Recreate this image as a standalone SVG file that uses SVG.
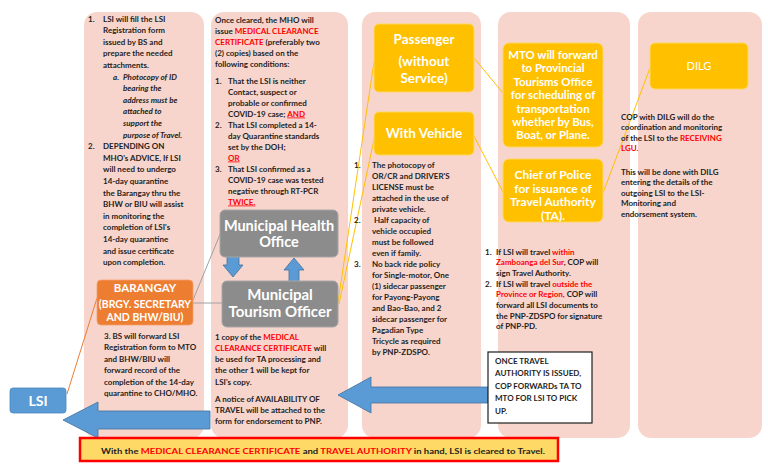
<svg xmlns="http://www.w3.org/2000/svg" width="768" height="466" viewBox="0 0 768 466">
<style>
.col{fill:#F7D5CC}
.t{font-family:Lato,"Liberation Sans",sans-serif;font-weight:bold;font-size:8px;fill:#1e1e1e}
.r{fill:#FF0000}
.it{font-style:italic}
.u{text-decoration:underline}
.yb{fill:#FFC000;stroke:#FFD75E;stroke-width:1}
.gb{fill:#8C8C8C;stroke:#A6A6A6;stroke-width:1}
.bw{font-family:Lato,"Liberation Sans",sans-serif;font-weight:bold;fill:#FFFFFF;text-anchor:middle}
.ar{fill:#5B9BD5;stroke:#41719C;stroke-width:0.8}
.cy{stroke:#FFC000;stroke-width:1;fill:none}
.cg{stroke:#A0A0A0;stroke-width:1;fill:none}
.co{stroke:#ED7D31;stroke-width:1;fill:none}
</style>

<g id="columns">
<rect class="col" x="84" y="12" width="120" height="426" rx="13"/>
<rect class="col" x="211" y="12" width="137" height="426" rx="13"/>
<rect class="col" x="362" y="12" width="119" height="426" rx="13"/>
<rect class="col" x="498" y="12" width="132" height="426" rx="13"/>
<rect class="col" x="638" y="12" width="124" height="426" rx="13"/>
</g>

<g id="connectors">
<line class="co" x1="97" y1="298" x2="67" y2="394"/>
<line class="cg" x1="193" y1="303" x2="222" y2="303"/>
<line class="cg" x1="193" y1="300" x2="221" y2="232"/>
<line class="cy" x1="338" y1="302" x2="374" y2="62"/>
<line class="cy" x1="339" y1="304" x2="375" y2="135"/>
<line class="cy" x1="474" y1="58" x2="503" y2="93"/>
<line class="cy" x1="474" y1="136" x2="503" y2="192"/>
<line class="cy" x1="603" y1="193" x2="650" y2="68"/>
<polygon class="ar" points="63,420 98,402 98,411 210,411 210,429 98,429 98,438"/>
<polygon class="ar" points="338,395 371,377 371,387 488,387 488,403 371,403 371,413"/>
<polygon class="ar" points="227,254 239,254 239,265 243,265 233,277 223,265 227,265"/>
<polygon class="ar" points="294,258 304,270 299,270 299,283 289,283 289,270 284,270"/>
</g>

<g id="lsi">
<rect x="10" y="388" width="56" height="25" rx="3" fill="#5B9BD5" stroke="#4A88C0" stroke-width="0.8"/>
<text class="bw" x="38" y="406" font-size="14">LSI</text>
</g>

<g id="lsi-steps">
<text class="t">
<tspan x="88" y="21.5">1.</tspan>
<tspan x="103" y="21.5">LSI will fill the LSI</tspan>
<tspan x="103" y="33.1">Registration form</tspan>
<tspan x="103" y="44.7">issued by BS and</tspan>
<tspan x="103" y="56.3">prepare the needed</tspan>
<tspan x="103" y="67.9">attachments.</tspan>
</text>
<text class="t it">
<tspan x="113" y="79.5">a.</tspan>
<tspan x="123" y="79.5">Photocopy of ID</tspan>
<tspan x="123" y="91.1">bearing the</tspan>
<tspan x="123" y="102.7">address must be</tspan>
<tspan x="123" y="114.3">attached to</tspan>
<tspan x="123" y="125.9">support the</tspan>
<tspan x="123" y="137.5">purpose of Travel.</tspan>
</text>
<text class="t">
<tspan x="88" y="149.1">2.</tspan>
<tspan x="103" y="149.1">DEPENDING ON</tspan>
<tspan x="103" y="160.7">MHO's ADVICE, If LSI</tspan>
<tspan x="103" y="172.3">will need to undergo</tspan>
<tspan x="103" y="183.9">14-day quarantine</tspan>
<tspan x="103" y="195.5">the Barangay thru the</tspan>
<tspan x="103" y="207.1">BHW or BIU will assist</tspan>
<tspan x="103" y="218.7">in monitoring the</tspan>
<tspan x="103" y="230.3">completion of LSI's</tspan>
<tspan x="103" y="241.9">14-day quarantine</tspan>
<tspan x="103" y="253.5">and issue certificate</tspan>
<tspan x="103" y="265.1">upon completion.</tspan>
</text>
<text class="t">
<tspan x="104" y="338.5">3. BS will forward LSI</tspan>
<tspan x="104" y="350">Registration form to MTO</tspan>
<tspan x="104" y="361.5">and BHW/BIU will</tspan>
<tspan x="104" y="373">forward record of the</tspan>
<tspan x="104" y="384.5">completion of the 14-day</tspan>
<tspan x="104" y="396">quarantine to CHO/MHO.</tspan>
</text>
</g>

<g id="barangay">
<rect x="97" y="280" width="96" height="45" rx="4" fill="#ED7D31" stroke="#F4A070" stroke-width="0.8"/>
<text class="bw" font-size="10.5"><tspan x="145" y="292" font-size="11.5">BARANGAY</tspan><tspan x="145" y="308">(BRGY. SECRETARY</tspan><tspan x="145" y="321">AND BHW/BIU)</tspan></text>
</g>

<g id="mho-text">
<text class="t">
<tspan x="215" y="22.5">Once cleared, the MHO will</tspan>
<tspan x="215" y="33.5">issue <tspan class="r">MEDICAL CLEARANCE</tspan></tspan>
<tspan x="215" y="44.5"><tspan class="r">CERTIFICATE</tspan> (preferably two</tspan>
<tspan x="215" y="55.5">(2) copies) based on the</tspan>
<tspan x="215" y="66.5">following conditions:</tspan>
<tspan x="215" y="83.5">1.</tspan>
<tspan x="228" y="83.5">That the LSI is neither</tspan>
<tspan x="228" y="94.5">Contact, suspect or</tspan>
<tspan x="228" y="105.5">probable or confirmed</tspan>
<tspan x="228" y="116.5">COVID-19 case; <tspan class="r u">AND</tspan></tspan>
<tspan x="215" y="127.5">2.</tspan>
<tspan x="228" y="127.5">That LSI completed a 14-</tspan>
<tspan x="228" y="138.5">day Quarantine standards</tspan>
<tspan x="228" y="149.5">set by the DOH;</tspan>
<tspan x="228" y="160.5" class="r u">OR</tspan>
<tspan x="215" y="171.5">3.</tspan>
<tspan x="228" y="171.5">That LSI confirmed as a</tspan>
<tspan x="228" y="182.5">COVID-19 case was tested</tspan>
<tspan x="228" y="193.5">negative through RT-PCR</tspan>
<tspan x="228" y="204.5" class="r u">TWICE.</tspan>
</text>
<text class="t">
<tspan x="215" y="339.5">1 copy of the <tspan class="r">MEDICAL</tspan></tspan>
<tspan x="215" y="350.8"><tspan class="r">CLEARANCE CERTIFICATE</tspan> will</tspan>
<tspan x="215" y="362.1">be used for TA processing and</tspan>
<tspan x="215" y="373.4">the other 1 will be kept for</tspan>
<tspan x="215" y="384.7">LSI's copy.</tspan>
<tspan x="215" y="401.5">A notice of AVAILABILITY OF</tspan>
<tspan x="215" y="412.8">TRAVEL will be attached to the</tspan>
<tspan x="215" y="424.1">form for endorsement to PNP.</tspan>
</text>
</g>

<g id="mho">
<rect class="gb" x="220" y="210" width="118" height="47" rx="5"/>
<text class="bw" font-size="14.5"><tspan x="279" y="231">Municipal Health</tspan><tspan x="279" y="247">Office</tspan></text>
</g>

<g id="mto-officer">
<rect class="gb" x="222" y="281" width="116" height="46" rx="5"/>
<text class="bw" font-size="15"><tspan x="280" y="300">Municipal</tspan><tspan x="280" y="317">Tourism Officer</tspan></text>
</g>

<g id="passenger">
<rect class="yb" x="374" y="24" width="100" height="68" rx="5"/>
<text class="bw" font-size="13.5"><tspan x="424" y="44">Passenger</tspan><tspan x="424" y="66">(without</tspan><tspan x="424" y="83">Service)</tspan></text>
</g>

<g id="vehicle">
<rect class="yb" x="374" y="112" width="100" height="43" rx="5"/>
<text class="bw" font-size="13.5" x="424" y="138">With Vehicle</text>
</g>

<g id="vehicle-text">
<text class="t">
<tspan x="354" y="167.5">1.</tspan>
<tspan x="372" y="167.5">The photocopy of</tspan>
<tspan x="372" y="178.5">OR/CR and DRIVER'S</tspan>
<tspan x="372" y="189.5">LICENSE must be</tspan>
<tspan x="372" y="200.5">attached in the use of</tspan>
<tspan x="372" y="211.5">private vehicle.</tspan>
<tspan x="354" y="222.5">2.</tspan>
<tspan x="374" y="222.5">Half capacity of</tspan>
<tspan x="372" y="233.5">vehicle occupied</tspan>
<tspan x="372" y="244.5">must be followed</tspan>
<tspan x="372" y="255.5">even if family.</tspan>
<tspan x="354" y="266.5">3.</tspan>
<tspan x="372" y="266.5">No back ride policy</tspan>
<tspan x="372" y="277.5">for Single-motor, One</tspan>
<tspan x="372" y="288.5">(1) sidecar passenger</tspan>
<tspan x="372" y="299.5">for Payong-Payong</tspan>
<tspan x="372" y="310.5">and Bao-Bao, and 2</tspan>
<tspan x="372" y="321.5">sidecar passenger for</tspan>
<tspan x="372" y="332.5">Pagadian Type</tspan>
<tspan x="372" y="343.5">Tricycle as required</tspan>
<tspan x="372" y="354.5">by PNP-ZDSPO.</tspan>
</text>
</g>

<g id="mto-forward">
<rect class="yb" x="503" y="43" width="100" height="104" rx="6"/>
<text class="bw" font-size="11.4"><tspan x="553" y="59">MTO will forward</tspan><tspan x="553" y="72.4">to Provincial</tspan><tspan x="553" y="85.8">Tourisms Office</tspan><tspan x="553" y="99.2">for  scheduling of</tspan><tspan x="553" y="112.6">transportation</tspan><tspan x="553" y="126">whether by Bus,</tspan><tspan x="553" y="139.4">Boat, or Plane.</tspan></text>
</g>

<g id="cop">
<rect class="yb" x="503" y="159" width="100" height="63" rx="6"/>
<text class="bw" font-size="12"><tspan x="553" y="179">Chief of Police</tspan><tspan x="553" y="192.5">for issuance of</tspan><tspan x="553" y="206">Travel Authority</tspan><tspan x="553" y="219.5">(TA).</tspan></text>
</g>

<g id="cop-text">
<text class="t">
<tspan x="485" y="254.5">1.</tspan>
<tspan x="496" y="254.5">If LSI will travel <tspan class="r">within</tspan></tspan>
<tspan x="496" y="265.2"><tspan class="r">Zamboanga del Sur</tspan>, COP will</tspan>
<tspan x="496" y="275.9">sign Travel Authority.</tspan>
<tspan x="485" y="286.6">2.</tspan>
<tspan x="496" y="286.6">If LSI will travel <tspan class="r">outside the</tspan></tspan>
<tspan x="496" y="297.3"><tspan class="r">Province or Region,</tspan> COP will</tspan>
<tspan x="496" y="308">forward all LSI documents to</tspan>
<tspan x="496" y="318.7">the PNP-ZDSPO for signature</tspan>
<tspan x="496" y="329.4">of PNP-PD.</tspan>
</text>
</g>

<g id="ta-note">
<rect x="488" y="352" width="104" height="71" fill="#FFFFFF" stroke="#1e1e1e" stroke-width="1.2"/>
<text class="t" font-size="9"><tspan x="495" y="363.5">ONCE TRAVEL</tspan><tspan x="495" y="376">AUTHORITY IS ISSUED,</tspan><tspan x="495" y="388.5">COP FORWARDs TA TO</tspan><tspan x="495" y="401">MTO FOR LSI TO PICK</tspan><tspan x="495" y="413.5">UP.</tspan></text>
</g>

<g id="dilg">
<rect class="yb" x="650" y="43" width="98" height="46" rx="5"/>
<text x="699" y="70" font-family="Lato,'Liberation Sans',sans-serif" font-size="11" fill="#FFFFFF" text-anchor="middle">DILG</text>
</g>

<g id="dilg-text">
<text class="t">
<tspan x="621" y="119.5">COP with DILG will do the</tspan>
<tspan x="621" y="130.1">coordination and monitoring</tspan>
<tspan x="621" y="140.7">of the LSI to the <tspan class="r">RECEIVING</tspan></tspan>
<tspan x="621" y="151.3" class="r">LGU.</tspan>
<tspan x="621" y="174.5">This will be done with DILG</tspan>
<tspan x="621" y="185.1">entering the details of the</tspan>
<tspan x="621" y="195.7">outgoing LSI to the LSI-</tspan>
<tspan x="621" y="206.3">Monitoring and</tspan>
<tspan x="621" y="216.9">endorsement system.</tspan>
</text>
</g>

<g id="banner">
<rect x="80" y="438" width="478" height="23" fill="#FFD966" stroke="#FF0000" stroke-width="2.5"/>
<text class="t" font-size="10" x="101" y="453.5" textLength="444" lengthAdjust="spacingAndGlyphs">With the <tspan class="r">MEDICAL CLEARANCE CERTIFICATE</tspan> and <tspan class="r">TRAVEL AUTHORITY</tspan> in hand, LSI is cleared to Travel.</text>
</g>
</svg>
